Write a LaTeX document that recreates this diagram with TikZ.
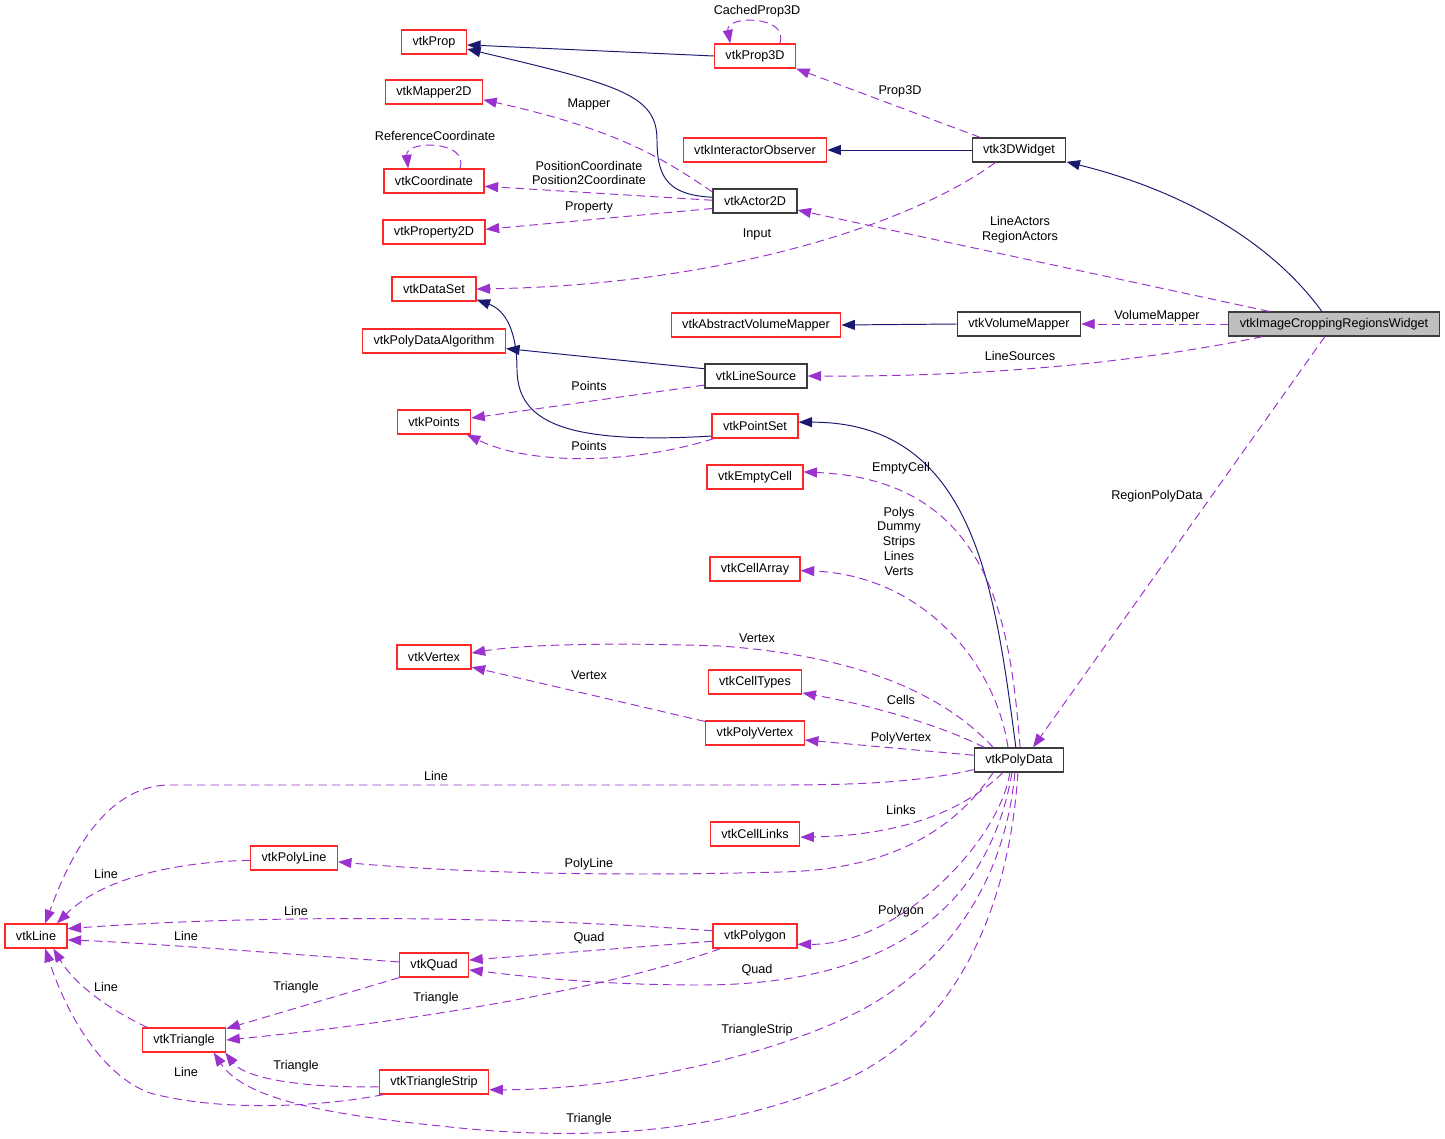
\documentclass[tikz,border=0pt]{standalone}
\usepackage{fontspec}
\setmainfont{Liberation Sans}
\usetikzlibrary{arrows, arrows.meta}

\definecolor{undocred}{RGB}{255,40,40}
\definecolor{docgray}{RGB}{60,60,60}
\definecolor{mainfill}{RGB}{191,191,191}
\definecolor{inheritblue}{RGB}{25,25,112}
\definecolor{usagepurple}{RGB}{154,50,205}

\newcommand\graphfont{\fontsize{7.2}{8.4}\selectfont}

\begin{document}
\begin{tikzpicture}[x=0.02cm, y=-0.02cm]

\useasboundingbox (0,0) rectangle (1445,1139);

\def\tiplength{0.27cm}
\def\tipwidth{0.2cm}

% classes

\tikzstyle{undoc box} = [draw=undocred, line width=0.7pt, fill=white, minimum height=0.48cm,
	inner xsep=0.22cm, inner ysep=0pt, font=\graphfont]
\tikzstyle{doc box} = [undoc box, draw=docgray]
\tikzstyle{main box} = [undoc box, draw=docgray, fill=mainfill]

\node [undoc box] (prop) at (434,42) {vtkProp};
\node [undoc box] (prop3d) at (755,56) {vtkProp3D};
\node [undoc box] (mapper2d) at (434,92) {vtkMapper2D};
\node [undoc box] (coordinate) at (434,181) {vtkCoordinate};
\node [undoc box] (property2d) at (434,232) {vtkProperty2D};
\node [undoc box] (interactorobserver) at (755,150) {vtkInteractorObserver};
\node [doc box] (widget3d) at (1019,150) {vtk3DWidget};
\node [doc box] (actor2d) at (755,201) {vtkActor2D};
\node [undoc box] (dataset) at (434,289) {vtkDataSet};
\node [undoc box] (polydataalgorithm) at (434,341) {vtkPolyDataAlgorithm};
\node [undoc box] (abstractvolumemapper) at (756,325) {vtkAbstractVolumeMapper};
\node [doc box] (volumemapper) at (1019,324) {vtkVolumeMapper};
\node [main box] (croppingwidget) at (1334,324) {vtkImageCroppingRegionsWidget};
\node [doc box] (linesource) at (756,376) {vtkLineSource};
\node [undoc box] (points) at (434,422) {vtkPoints};
\node [undoc box] (pointset) at (755,426) {vtkPointSet};
\node [undoc box] (emptycell) at (755,477) {vtkEmptyCell};
\node [undoc box] (cellarray) at (755,569) {vtkCellArray};
\node [undoc box] (vertex) at (434,657) {vtkVertex};
\node [undoc box] (celltypes) at (755,682) {vtkCellTypes};
\node [undoc box] (polyvertex) at (755,733) {vtkPolyVertex};
\node [doc box] (polydata) at (1019,760) {vtkPolyData};
\node [undoc box] (celllinks) at (755,834) {vtkCellLinks};
\node [undoc box] (polyline) at (294,858) {vtkPolyLine};
\node [undoc box] (line) at (36,936) {vtkLine};
\node [undoc box] (polygon) at (755,936) {vtkPolygon};
\node [undoc box] (quad) at (434,965) {vtkQuad};
\node [undoc box] (triangle) at (184,1040) {vtkTriangle};
\node [undoc box] (trianglestrip) at (434,1082) {vtkTriangleStrip};

% inheritance

\tikzstyle{inherit line} = [draw=inheritblue, line width=0.55pt,
	-{Triangle[length=\tiplength, width=\tipwidth]}]

\draw [inherit line] (prop3d.west) -- (prop.-5);
\draw [inherit line] (actor2d.175) .. controls (670,195) and (657,180) .. (657,140)
	.. controls (657,95) and (620,85) .. (prop.-12);
\draw [inherit line] (widget3d.west) -- (interactorobserver.east);
\draw [inherit line] (croppingwidget.134) .. controls (1270,240) and (1180,190) .. (widget3d.-14);
\draw [inherit line] (volumemapper.west) -- (abstractvolumemapper.east);
\draw [inherit line] (linesource.172) -- (polydataalgorithm.-6);
\draw [inherit line] (pointset.193) .. controls (560,445) and (518,420) .. (517,370)
	.. controls (517,330) and (505,310) .. (dataset.-14);
\draw [inherit line] (polydata.104) .. controls (995,590) and (975,422) .. (pointset.5);

% usage

\tikzstyle{usage line} = [draw=usagepurple, line width=0.55pt, dash pattern=on 0.17cm off 0.1cm,
	-{Triangle[length=\tiplength, width=\tipwidth]}]
\tikzstyle{edge label} = [inner sep=0pt, align=center, font=\graphfont]

\draw [usage line] (prop3d.27) .. controls (790,15) and (725,15) .. (prop3d.153);
\draw [usage line] (widget3d.162) -- (prop3d.-17);
\draw [usage line] (actor2d.168) .. controls (665,160) and (620,130) .. (mapper2d.-9);
\draw [usage line] (coordinate.26) .. controls (470,140) and (405,140) .. (coordinate.154);
\draw [usage line] (actor2d.179) -- (coordinate.-6);
\draw [usage line] (actor2d.190) -- (property2d.3);
\draw [usage line] (widget3d.208) .. controls (910,225) and (720,285) .. (dataset.east);
\draw [usage line] (croppingwidget.169) -- (actor2d.-12);
\draw [usage line] (croppingwidget.west) -- (volumemapper.east);
\draw [usage line] (croppingwidget.190) .. controls (1150,360) and (1000,377) .. (linesource.east);
\draw [usage line] (croppingwidget.234) -- (polydata.42);
\draw [usage line] (linesource.190) -- (points.6);
\draw [usage line] (pointset.197) .. controls (630,465) and (530,465) .. (points.-21);
\draw [usage line] (polydata.85) .. controls (1010,620) and (990,480) .. (emptycell.6);
\draw [usage line] (polydata.131) .. controls (995,660) and (920,575) .. (cellarray.-2);
\draw [usage line] (polydata.154) .. controls (940,690) and (850,655) .. (720,646)
	.. controls (600,642) and (520,645) .. (vertex.6);
\draw [usage line] (polydata.160) .. controls (940,725) and (870,705) .. (celltypes.-13);
\draw [usage line] (polydata.174) -- (polyvertex.-8);
\draw [usage line] (polyvertex.167) -- (vertex.-15);
\draw [usage line] (polydata.192) .. controls (920,782) and (860,785) .. (780,785) -- (170,785)
	.. controls (100,785) and (65,870) .. (line.54);
\draw [usage line] (polydata.218) .. controls (975,800) and (920,835) .. (celllinks.-4);
\draw [usage line] (polydata.206) .. controls (960,822) and (900,870) .. (780,872)
	.. controls (600,877) and (450,872) .. (polyline.-5);
\draw [usage line] (polyline.183) .. controls (170,862) and (100,880) .. (line.31);
\draw [usage line] (polygon.173) .. controls (500,915) and (250,915) .. (line.13);
\draw [usage line] (quad.175) .. controls (300,955) and (150,943) .. (line.-7);
\draw [usage line] (triangle.161) .. controls (110,1010) and (75,985) .. (line.-36);
\draw [usage line] (trianglestrip.194) .. controls (320,1107) and (220,1112) .. (150,1093)
	.. controls (100,1075) and (65,1010) .. (line.-54);
\draw [usage line] (polygon.187) -- (quad.8);
\draw [usage line] (polygon.200) .. controls (620,985) and (430,1020) .. (triangle.east);
\draw [usage line] (quad.200) -- (triangle.15);
\draw [usage line] (polydata.234) .. controls (1000,840) and (900,945) .. (polygon.-11);
\draw [usage line] (polydata.241) .. controls (990,900) and (900,985) .. (700,985)
	.. controls (600,985) and (530,977) .. (quad.-8);
\draw [usage line] (trianglestrip.185) .. controls (300,1088) and (245,1078) .. (triangle.-17);
\draw [usage line] (polydata.252) .. controls (1005,880) and (950,960) .. (867,1007)
	.. controls (780,1055) and (620,1090) .. (trianglestrip.-8);
\draw [usage line] (polydata.265) .. controls (1010,900) and (960,1035) .. (833,1085)
	.. controls (720,1132) and (590,1142) .. (450,1127)
	.. controls (330,1115) and (245,1100) .. (triangle.-23);

% labels

\node [edge label] (lcachedprop3d) at (757,11) {CachedProp3D};
\node [edge label] (lprop3d) at (900,91) {Prop3D};
\node [edge label] (lmapper) at (589,104) {Mapper};
\node [edge label] (lreferencecoordinate) at (435,136) {ReferenceCoordinate};
\node [edge label] (lpositioncoordinate) at (589,173) {PositionCoordinate\\Position2Coordinate};
\node [edge label] (lproperty) at (589,207) {Property};
\node [edge label] (linput) at (757,234) {Input};
\node [edge label] (llineactors) at (1020,230) {LineActors\\RegionActors};
\node [edge label] (lvolumemapper) at (1157,316) {VolumeMapper};
\node [edge label] (llinesources) at (1020,356) {LineSources};
\node [edge label] (lregionpolydata) at (1157,496) {RegionPolyData};
\node [edge label] (lpointsa) at (589,386) {Points};
\node [edge label] (lpointsb) at (589,446) {Points};
\node [edge label] (lemptycell) at (901,468) {EmptyCell};
\node [edge label] (lpolys) at (899,541) {Polys\\Dummy\\Strips\\Lines\\Verts};
\node [edge label] (lvertexa) at (757,638) {Vertex};
\node [edge label] (lcells) at (901,700) {Cells};
\node [edge label] (lpolyvertex) at (901,738) {PolyVertex};
\node [edge label] (lvertexb) at (589,675) {Vertex};
\node [edge label] (llinea) at (436,776) {Line};
\node [edge label] (llinks) at (901,810) {Links};
\node [edge label] (lpolyline) at (589,864) {PolyLine};
\node [edge label] (llineb) at (106,874) {Line};
\node [edge label] (llinec) at (296,911) {Line};
\node [edge label] (llined) at (186,936) {Line};
\node [edge label] (lpolygon) at (901,911) {Polygon};
\node [edge label] (lquada) at (589,938) {Quad};
\node [edge label] (ltrianglea) at (296,987) {Triangle};
\node [edge label] (llinee) at (106,987) {Line};
\node [edge label] (lquadb) at (757,970) {Quad};
\node [edge label] (ltriangleb) at (436,998) {Triangle};
\node [edge label] (ltrianglestrip) at (757,1030) {TriangleStrip};
\node [edge label] (ltrianglec) at (296,1066) {Triangle};
\node [edge label] (llinef) at (186,1072) {Line};
\node [edge label] (ltriangled) at (589,1119) {Triangle};

\end{tikzpicture}
\end{document}
